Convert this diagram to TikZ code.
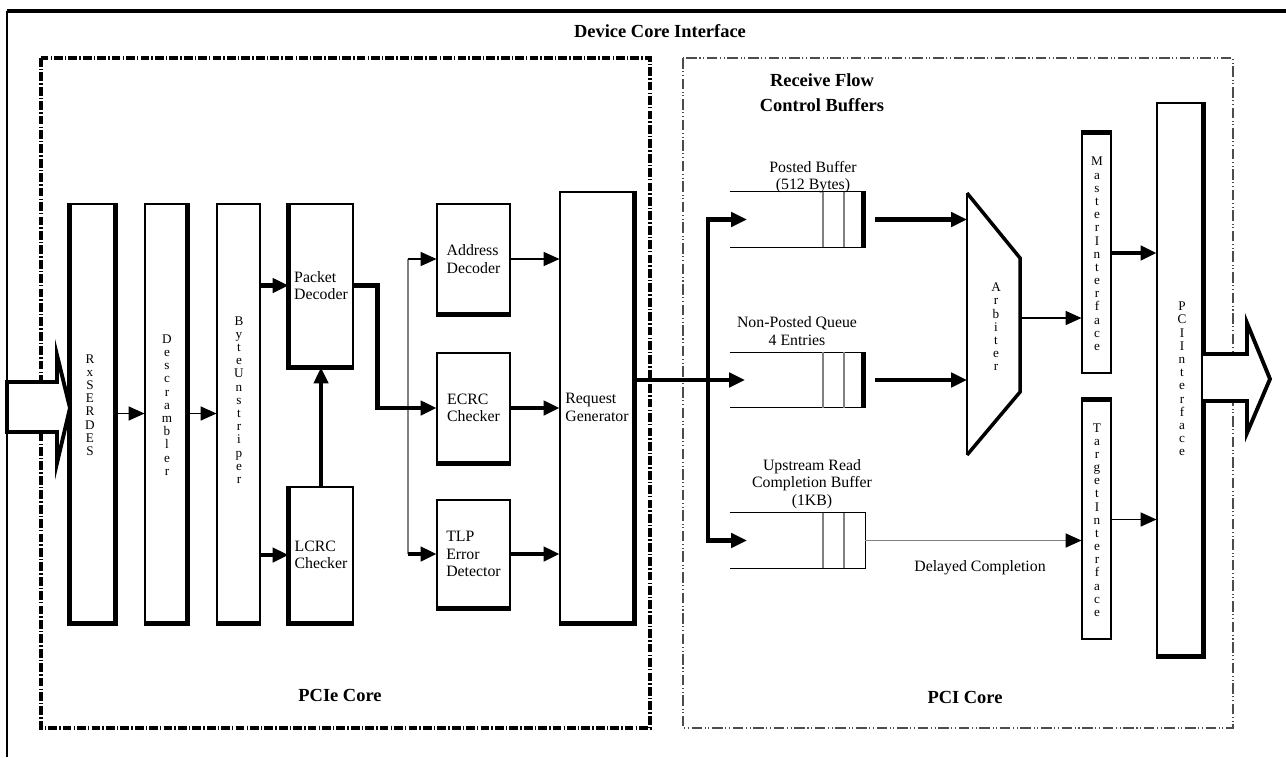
\documentclass[tikz,border=0pt]{standalone}
\usepackage{fontspec}
\setmainfont{Liberation Serif}
\usetikzlibrary{arrows.meta}

\newcommand{\nolineskip}{\lineskiplimit=-50pt\relax}

\tikzset{
    blk/.style 2 args={draw, fill=white, line width=0.6pt, inner sep=0pt,
        minimum width=#1*0.2mm, minimum height=#2*0.2mm},
    buf/.style={inner sep=0pt, minimum width=135*0.2mm, minimum height=55*0.2mm},
    lbl/.style={align=left, inner sep=0pt, font=\fontsize{9}{10}\selectfont},
    vlbl/.style={align=center, inner sep=0pt,
        font=\fontsize{7.5}{#1}\selectfont\nolineskip},
    vlbl/.default=7.5,
    ttl/.style={align=center, inner sep=0pt, font=\bfseries\fontsize{10.5}{14}\selectfont},
    thk/.style={line width=2.4pt},
    thn/.style={line width=0.6pt},
    gry/.style={line width=0.6pt, draw=black!50},
    hollow/.style={line width=2.2pt, fill=white, line join=miter}
}

\begin{document}
\begin{tikzpicture}[>={Triangle[length=9pt,width=8pt]}, x=0.2mm, y=-0.2mm]
\useasboundingbox (0,0) rectangle (1286,757);

%% 外框
\draw [line width=2.5pt] (7,11) -- (1286,11);
\draw [thn] (7,11) -- (7,757);
\node [ttl] (dci) at (660,31) {Device Core Interface};

%% 第一个区域: PCIe Core
\begin{scope}
    \draw [line width=2.2pt, dash pattern=on 5pt off 1.2pt on 0.8pt off 1.2pt] (41,58) rectangle (650,728);
    \node [ttl] (pcie) at (340,695) {PCIe Core};

    \node [blk={45}{419}] (rx) at (92.5,413.5) {};
    \node [blk={42}{419}] (ds) at (166,413.5) {};
    \node [blk={43}{419}] (bu) at (238.5,413.5) {};
    \node [blk={64}{163}, lbl] (pd) at (321,285.5) {Packet\\Decoder};
    \node [blk={64}{136}, lbl] (lc) at (321,555) {LCRC\\Checker};
    \node [blk={73}{110}, lbl] (ad) at (473.5,259) {Address\\Decoder};
    \node [blk={73}{110}, lbl] (ec) at (473.5,408) {ECRC\\Checker};
    \node [blk={73}{108}, lbl] (tl) at (473.5,554) {TLP\\Error\\Detector};
    \node [blk={74}{431}, lbl] (rg) at (597,407.5) {Request\\Generator};

    %% 竖排文字
    \node [vlbl] (rxl) at (90,405) {R\\x\\S\\E\\R\\D\\E\\S};
    \node [vlbl] (dsl) at (167,405) {D\\e\\s\\c\\r\\a\\m\\b\\l\\e\\r};
    \node [vlbl] (bul) at (239,400) {B\\y\\t\\e\\U\\n\\s\\t\\r\\i\\p\\e\\r};

    %% 粗边
    \draw [thk] (rx.north west) -- (rx.south west) -- (rx.south east) -- (rx.north east);
    \draw [thk] (ds.south west) -- (ds.south east) -- (ds.north east);
    \draw [thk] (bu.south west) -- (bu.south east);
    \draw [thk] (pd.north west) -- (pd.south west) -- (pd.south east);
    \draw [thk] (lc.north west) -- (lc.south west) -- (lc.south east);
    \foreach \b in {ad, ec, tl}
    {
        \draw [thk] (\b.south west) -- (\b.south east);
    }
    \draw [thk] (rg.north east) -- (rg.south east) -- (rg.south west);

    \draw [hollow] (7,382) -- (57,382) -- (57,355) -- (70,408) -- (57,463) -- (57,432) -- (7,432) -- cycle;
    \draw [thn, ->] (rx.east) -- (ds.west);
    \draw [thn, ->] (ds.east) -- (bu.west);
    \draw [thk, ->] (bu.east |- pd.west) -- (pd.west);
    \draw [thk, ->] (bu.east |- lc.west) -- (lc.west);
    \draw [thk, ->] (lc.north) -- (pd.south);

    \coordinate (gx) at (408,0);
    \draw [gry] (ad.west -| gx) -- (tl.west -| gx);
    \draw [thn, ->] (ad.west -| gx) -- (ad.west);
    \draw [thk, ->] (tl.west -| gx) -- (tl.west);
    \draw [thk, ->] (pd.east) -- ++(24,0) |- (ec.west);

    \draw [thn, ->] (ad.east) -- (rg.west |- ad.east);
    \draw [thk, ->] (ec.east) -- (rg.west |- ec.east);
    \draw [thk, ->] (tl.east) -- (rg.west |- tl.east);
\end{scope}

%% 第二个区域: PCI Core
\begin{scope}
    \draw [thn, draw=black!70, dash pattern=on 6pt off 1.5pt on 0.6pt off 1.5pt on 0.6pt off 1.5pt] (683,58) rectangle (1233,728);
    \node [ttl] (pcic) at (965,697) {PCI Core};
    \node [ttl] (rfc) at (822,93) {Receive Flow\\Control Buffers};

    %% 缓冲区
    \coordinate (d1) at (823,0);
    \coordinate (d2) at (844,0);
    \node [buf] (pb) at (797.5,219.5) {};
    \node [buf] (nq) at (797.5,380) {};
    \node [buf] (ub) at (797.5,540.5) {};
    \foreach \b in {pb, nq, ub}
    {
        \draw [thn] (\b.north west) -- (\b.north east) -- (\b.south east) -- (\b.south west);
        \foreach \d in {d1, d2}
        {
            \draw [gry] (\b.north -| \d) -- (\b.south -| \d);
        }
    }
    \foreach \b in {pb, nq}
    {
        \draw [thk] ([xshift=-0.4mm]\b.north east) -- ([xshift=-0.4mm]\b.south east);
    }
    \node [lbl, align=center] (pbl) at (813,177) {Posted Buffer\\(512 Bytes)};
    \node [lbl, align=center] (nql) at (797,331) {Non-Posted Queue\\4 Entries};
    \node [lbl, align=center] (ubl) at (812,484) {Upstream Read\\Completion Buffer\\(1KB)};

    %% 仲裁器
    \coordinate (a1) at (967,193);
    \coordinate (a2) at (1020,258);
    \coordinate (a3) at (1020,392);
    \coordinate (a4) at (967,455);
    \draw [thn] (a4) -- (a1);
    \draw [line width=2pt] (a1) -- (a2) -- (a3) -- (a4);
    \node [vlbl] (arb) at (996,327) {A\\r\\b\\i\\t\\e\\r};

    \node [blk={29}{240}] (ms) at (1096.5,253) {};
    \node [blk={29}{239}] (tg) at (1096.5,519.5) {};
    \node [blk={46}{553}] (pci) at (1180,379.5) {};
    \draw [thk] (ms.north west) -- (ms.north east);
    \draw [thk] (tg.north west) -- (tg.north east);
    \draw [thk] (pci.north east) -- (pci.south east) -- (pci.south west);
    \node [vlbl] (msl) at (1097,254) {M\\a\\s\\t\\e\\r\\I\\n\\t\\e\\r\\f\\a\\c\\e};
    \node [vlbl] (tgl) at (1097,520) {T\\a\\r\\g\\e\\t\\I\\n\\t\\e\\r\\f\\a\\c\\e};
    \node [vlbl] (pcil) at (1182,379) {P\\C\\I\\I\\n\\t\\e\\r\\f\\a\\c\\e};

    %% 连线
    \coordinate (split) at (708,380);
    \coordinate (pbin) at (747,219.5);
    \coordinate (nqin) at (745,380);
    \coordinate (ubin) at (747,540.5);
    \draw [thk, ->] (rg.east |- split) -- (nqin);
    \draw [thk, ->] (split) |- (pbin);
    \draw [thk, ->] (split) |- (ubin);

    \draw [thk, ->] ([xshift=2mm]pb.east) -- (pb.east -| a1);
    \draw [thk, ->] ([xshift=2mm]nq.east) -- (nq.east -| a1);
    \coordinate (arbout) at (1020,318);
    \draw [thn, ->] (arbout) -- (ms.west |- arbout);
    \draw [gry, -{Triangle[length=9pt,width=8pt,color=black]}] (ub.east) -- (tg.west |- ub.east);
    \node [lbl] (dcl) at (980,568) {Delayed Completion};
    \draw [thk, ->] (ms.east) -- (pci.west |- ms.east);
    \draw [thn, ->] (tg.east) -- (pci.west |- tg.east);

    \draw [hollow] (1203,354) -- (1247,354) -- (1247,323) -- (1270,379) -- (1247,433) -- (1247,401) -- (1203,401);
\end{scope}

\end{tikzpicture}
\end{document}
